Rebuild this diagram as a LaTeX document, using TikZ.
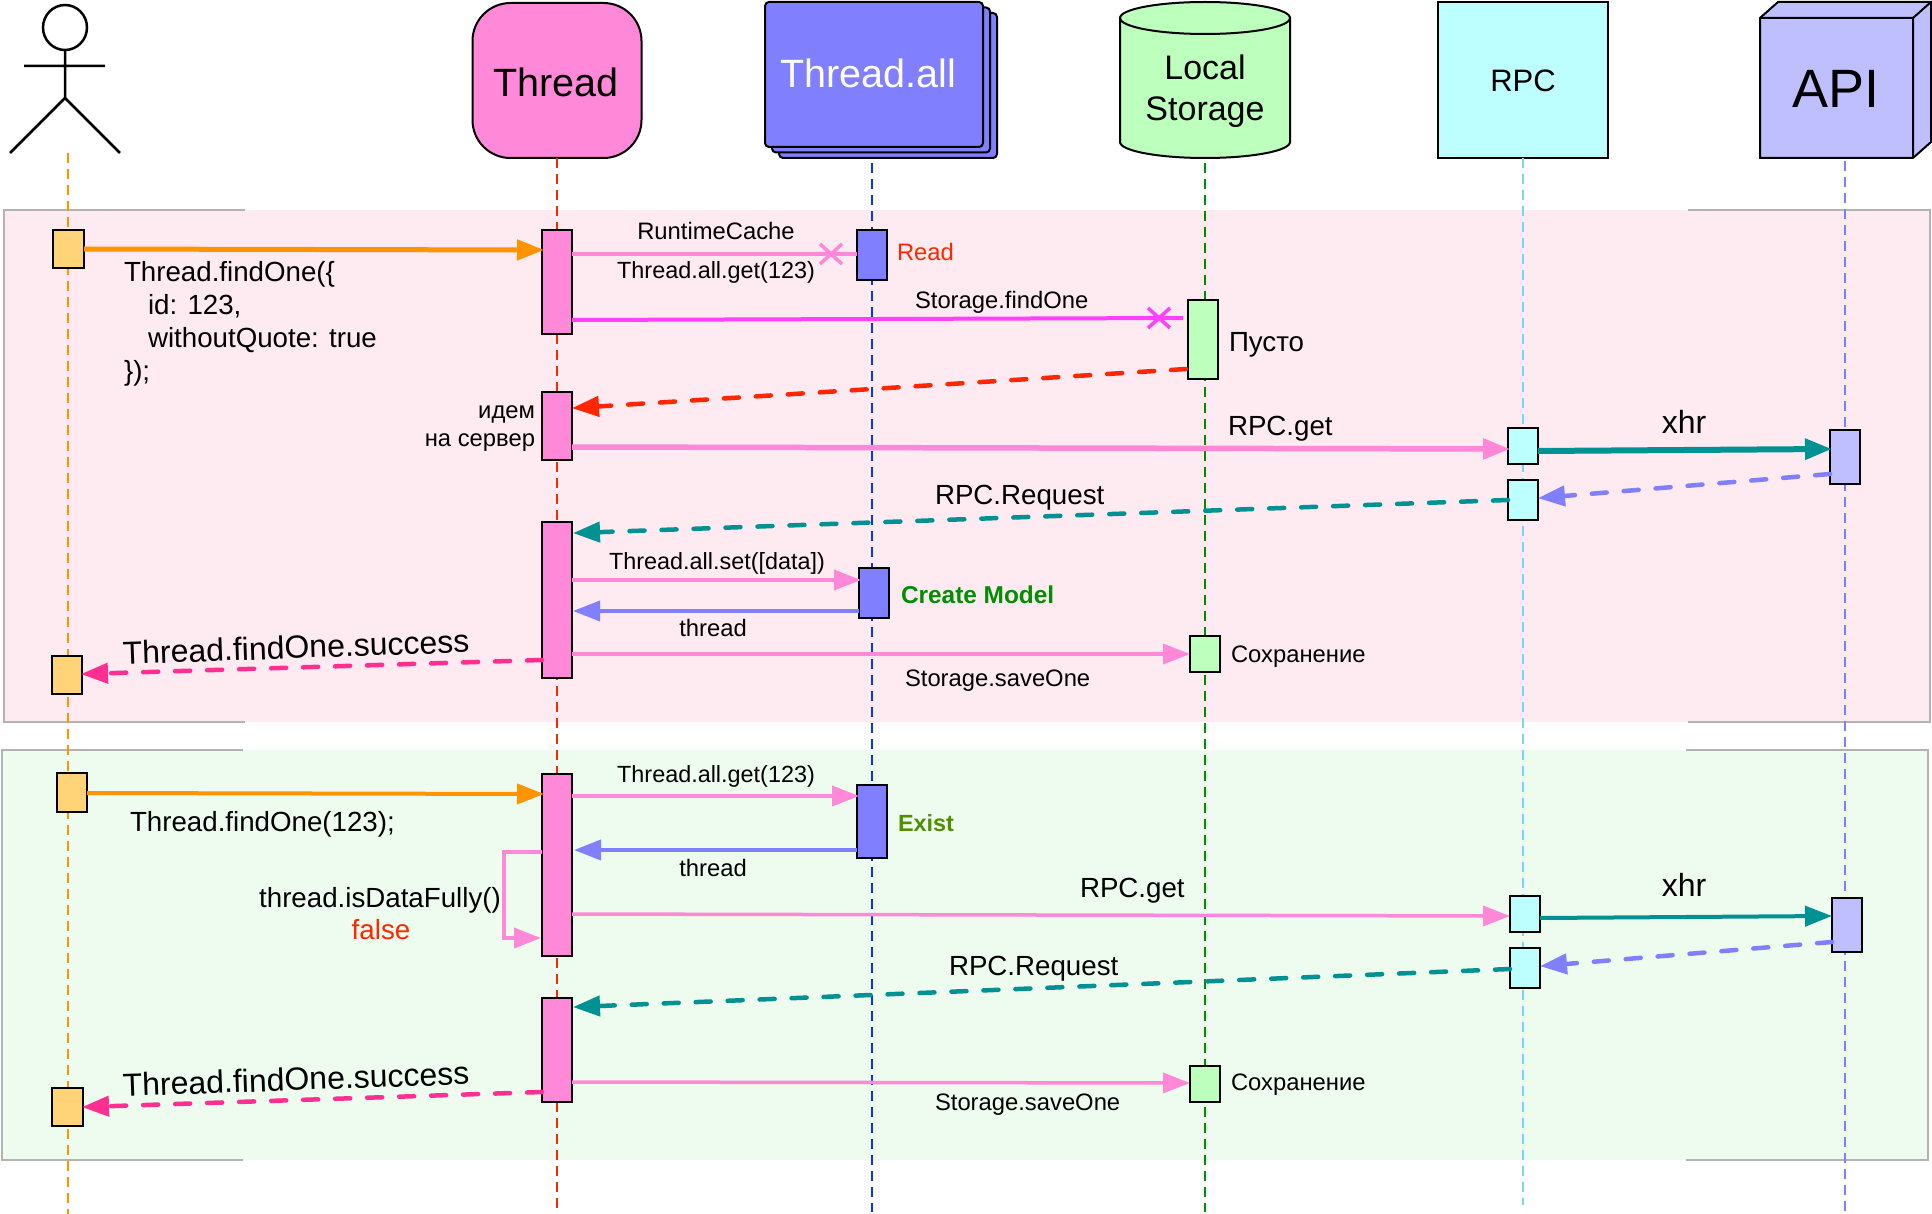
\documentclass[tikz,border=0pt]{standalone}
\usepackage{fontspec}
\setmainfont{Liberation Sans}
\usetikzlibrary{arrows.meta}
\definecolor{cpink}{HTML}{FF89D8}
\definecolor{corange}{HTML}{FF9300}
\definecolor{cmag}{HTML}{FF40FF}
\definecolor{cred}{HTML}{FF2600}
\definecolor{cteal}{HTML}{009193}
\definecolor{cperi}{HTML}{8080FF}
\definecolor{chot}{HTML}{FF2F92}
\definecolor{bor}{HTML}{FFD479}
\definecolor{bgr}{HTML}{BDFFBD}
\definecolor{bcy}{HTML}{BDFFFF}
\definecolor{bap}{HTML}{BFBFFF}
\definecolor{ppink}{HTML}{FEEAF1}
\definecolor{pgreen}{HTML}{EEFBEF}
\definecolor{gborder}{HTML}{B3B3B3}
\definecolor{lblue}{HTML}{0433FF}
\definecolor{lgreen}{HTML}{008F00}
\definecolor{lsky}{HTML}{76D6FF}
\definecolor{lperi}{HTML}{7A81FF}
\definecolor{cexist}{HTML}{4F8F00}
\tikzset{
  act/.style={draw=black,line width=2pt,inner sep=0pt,outer sep=0pt,minimum width=30pt},
  head/.style={draw=black,line width=2pt,inner sep=0pt,outer sep=0pt},
  life/.style={line width=2pt,dash pattern=on 10pt off 6pt},
  tipa/.style={-{Triangle[length=27pt,width=20pt]},shorten >=-2pt},
  call/.style={tipa,line width=#1},
  ret/.style={tipa,line width=#1,line cap=round,dash pattern=on 15pt off 17pt},
  lab/.style={inner sep=0pt,outer sep=0pt,font=\fontsize{23.8}{28}\selectfont},
  big/.style={inner sep=0pt,outer sep=0pt,font=\fontsize{27.7}{33}\selectfont},
  huge/.style={inner sep=0pt,outer sep=0pt,font=\fontsize{32}{38}\selectfont},
  panelborder/.style={draw=gborder,line width=2pt},
}
\begin{document}
\begin{tikzpicture}[x=1pt,y=-1pt,line join=miter]
\useasboundingbox (0,0) rectangle (1932,1214);
% panels
\fill[ppink] (4,210) rectangle (1930,722);
\fill[pgreen] (2,750) rectangle (1928,1160);
\draw[panelborder] (245,210) -- (4,210) -- (4,722) -- (245,722);
\draw[panelborder] (1688,210) -- (1930,210) -- (1930,722) -- (1688,722);
\draw[panelborder] (243,750) -- (2,750) -- (2,1160) -- (243,1160);
\draw[panelborder] (1686,750) -- (1928,750) -- (1928,1160) -- (1686,1160);
% actor
\draw[line width=2.5pt,line cap=round] (65,27.5) ellipse (22 and 22.5);
\draw[line width=2.5pt] (65,50) -- (65,98) (24,66) -- (105,66) (10,153) -- (65,98) -- (120,153);
% heads
\node[head,fill=cpink,rounded corners=38pt,minimum width=169pt,minimum height=155pt] (thread) at (557,80.5) {};
\node[head,fill=cperi,rounded corners=4pt,minimum width=218pt,minimum height=145pt] (all3) at (888,85.5) {};
\node[head,fill=cperi,rounded corners=4pt,minimum width=218pt,minimum height=145pt] (all2) at (881,80) {};
\node[head,fill=cperi,rounded corners=4pt,minimum width=218pt,minimum height=145pt] (all1) at (874,74.5) {};
\draw[line width=2pt,fill=bgr] (1120,18) -- (1120,142) arc[start angle=180,end angle=360,x radius=85,y radius=-16] -- (1290,18) arc[start angle=0,end angle=180,x radius=85,y radius=-16] -- cycle;
\draw[line width=2pt] (1120,18) arc[start angle=180,end angle=360,x radius=85,y radius=-16];
\node[head,draw=none,minimum width=170pt,minimum height=156pt] (storage) at (1205,80) {};
\node[head,fill=bcy,minimum width=170pt,minimum height=156pt] (rpc) at (1523,80) {};
\draw[line width=2pt,fill=bap] (1760,18) -- (1778,2) -- (1931,2) -- (1931,142) -- (1913,158) -- (1760,158) -- cycle;
\draw[line width=2pt] (1760,18) -- (1913,18) -- (1931,2) (1913,18) -- (1913,158);
\node[head,draw=none,minimum width=153pt,minimum height=140pt] (api) at (1836.5,88) {};
% lifelines
\coordinate (e0t) at (68,153); \coordinate (e0b) at (68,1214);
\coordinate (e1t) at (557,158); \coordinate (e1b) at (557,1208);
\coordinate (e2t) at (872,163); \coordinate (e2b) at (872,1212);
\coordinate (e3t) at (1205,163); \coordinate (e3b) at (1205,1212);
\coordinate (e4t) at (1523,158); \coordinate (e4b) at (1523,1205);
\coordinate (e5t) at (1845,161); \coordinate (e5b) at (1845,1212);
\draw[life,corange] (e0t) -- (e0b);
\draw[life,cred] (e1t) -- (e1b);
\draw[life,lblue] (e2t) -- (e2b);
\draw[life,lgreen] (e3t) -- (e3b);
\draw[life,lsky] (e4t) -- (e4b);
\draw[life,lperi] (e5t) -- (e5b);
% activation boxes, pink panel
\node[act,fill=bor,minimum width=31pt,minimum height=38pt] (a1) at (68.5,249) {};
\node[act,fill=bor,minimum height=38pt] (a2) at (67,675) {};
\node[act,fill=cpink,minimum height=104pt] (t1) at (557,282) {};
\node[act,fill=cpink,minimum height=68pt] (t2) at (557,426) {};
\node[act,fill=cpink,minimum height=156pt] (t3) at (557,600) {};
\node[act,fill=cperi,minimum height=50pt] (ta1) at (872,255) {};
\node[act,fill=cperi,minimum height=50pt] (ta2) at (874,593) {};
\node[act,fill=bgr,minimum height=79pt] (s1) at (1203,339.5) {};
\node[act,fill=bgr,minimum height=36pt] (s2) at (1205,654) {};
\node[act,fill=bcy,minimum height=36pt] (r1) at (1523,446) {};
\node[act,fill=bcy,minimum height=40pt] (r2) at (1523,500) {};
\node[act,fill=bap,minimum height=54pt] (p1) at (1845,457) {};
% activation boxes, green panel
\node[act,fill=bor,minimum height=39pt] (a3) at (72,792.5) {};
\node[act,fill=bor,minimum width=31pt,minimum height=38pt] (a4) at (67.5,1107) {};
\node[act,fill=cpink,minimum height=182pt] (t4) at (557,865) {};
\node[act,fill=cpink,minimum height=104pt] (t5) at (557,1050) {};
\node[act,fill=cperi,minimum height=73pt] (ta3) at (872,821.5) {};
\node[act,fill=bgr,minimum height=36pt] (s3) at (1205,1084) {};
\node[act,fill=bcy,minimum height=36pt] (r3) at (1525,914) {};
\node[act,fill=bcy,minimum height=40pt] (r4) at (1525,968) {};
\node[act,fill=bap,minimum height=54pt] (p2) at (1847,925) {};
% connectors, pink panel
\draw[call=5pt,corange] ([yshift=-19pt]a1.north east) -- ([yshift=-20pt]t1.north west);
\draw[line width=4pt,cpink] ([yshift=-24pt]t1.north east) -- ([yshift=-24pt]ta1.north west);
\draw[line width=3.5pt,cpink] (820,244) -- (842,264) (820,264) -- (842,244);
\draw[line width=4pt,cmag] ([yshift=-90pt]t1.north east) -- ([xshift=-5pt,yshift=-18pt]s1.north west);
\draw[line width=3.5pt,cmag] (1148,308) -- (1170,328) (1148,328) -- (1170,308);
\draw[ret=4.5pt,cred] ([xshift=-2pt,yshift=-69pt]s1.north west) -- ([xshift=2pt,yshift=-16pt]t2.north east);
\draw[call=5.5pt,cpink] ([yshift=-55pt]t2.north east) -- ([yshift=-21pt]r1.north west);
\draw[call=6pt,cteal] ([yshift=-23pt]r1.north east) -- ([yshift=-19pt]p1.north west);
\draw[ret=4.5pt,cperi] ([yshift=-44pt]p1.north west) -- ([xshift=2pt,yshift=-18pt]r2.north east);
\draw[ret=4.5pt,cteal] ([yshift=-20pt]r2.north west) -- ([xshift=3pt,yshift=-11pt]t3.north east);
\draw[call=3.5pt,cpink] ([yshift=-58pt]t3.north east) -- ([yshift=-12pt]ta2.north west);
\draw[call=3.5pt,cperi] ([yshift=-43pt]ta2.north west) -- ([xshift=3pt,yshift=-89pt]t3.north east);
\draw[call=3.5pt,cpink] ([yshift=-132pt]t3.north east) -- ([xshift=-2pt,yshift=-18pt]s2.north west);
\draw[ret=4.5pt,chot] ([yshift=-138pt]t3.north west) -- ([xshift=1pt,yshift=-18pt]a2.north east);
% connectors, green panel
\draw[call=4pt,corange] ([yshift=-20pt]a3.north east) -- ([yshift=-20pt]t4.north west);
\draw[call=4pt,cpink] ([yshift=-22pt]t4.north east) -- ([yshift=-11pt]ta3.north west);
\draw[call=4pt,cperi] ([yshift=-65pt]ta3.north west) -- ([xshift=4pt,yshift=-76pt]t4.north east);
\draw[call=4pt,cpink] ([yshift=-78pt]t4.north west) -- ++(-38,0) |- ([xshift=-3pt,yshift=-164pt]t4.north west);
\draw[call=3.5pt,cpink] ([yshift=-140pt]t4.north east) -- ([xshift=-2pt,yshift=-20pt]r3.north west);
\draw[ret=4.5pt,cteal] ([yshift=-21pt]r4.north west) -- ([xshift=3pt,yshift=-9pt]t5.north east);
\draw[call=3.5pt,cpink] ([yshift=-84pt]t5.north east) -- ([xshift=-2pt,yshift=-17pt]s3.north west);
\draw[ret=4.5pt,chot] ([yshift=-94pt]t5.north west) -- ([xshift=1pt,yshift=-19pt]a4.north east);
\draw[call=4pt,cteal] ([yshift=-22pt]r3.north east) -- ([xshift=-2pt,yshift=-18pt]p2.north west);
\draw[ret=4.5pt,cperi] ([yshift=-44pt]p2.north west) -- ([xshift=2pt,yshift=-18pt]r4.north east);
% head labels
\node[inner sep=0pt,font=\fontsize{39.5}{46}\selectfont] (lthread) at (556,82) {Thread};
\node[inner sep=0pt,text=white,font=\fontsize{39.5}{46}\selectfont] (lall) at (868,73) {Thread.all};
\node[inner sep=0pt,align=center,font=\fontsize{34}{41}\selectfont] (lstorage) at (1205,91.5) {Local\\Storage};
\node[inner sep=0pt,font=\fontsize{31}{36}\selectfont] (lrpc) at (1523,81) {RPC};
\node[inner sep=0pt,font=\fontsize{54}{60}\selectfont] (lapi) at (1836,89) {API};
% labels, pink panel
\node[lab] (n1) at (716,231) {RuntimeCache};
\node[lab,font=\fontsize{23.4}{28}\selectfont] (n2) at (716,272) {Thread.all.get(123)};
\node[lab,anchor=west,text=cred] (n3) at (897,252) {Read};
\node[lab,anchor=west] (n4) at (915,302) {Storage.findOne};
\node[big,anchor=west] (n5) at (1229,344.5) {Пусто};
\node[big,anchor=west,align=left] (n6) at (124,324) {Thread.findOne(\{\\\hspace*{24pt}id: 123,\\\hspace*{24pt}withoutQuote: true\\\});};
\node[lab,anchor=east,align=right] (n7) at (535,429) {идем\\на сервер};
\node[big,anchor=west] (n8) at (1228,428.5) {RPC.get};
\node[huge] (n9) at (1684,422) {xhr};
\node[big,anchor=west] (n10) at (935,497.5) {RPC.Request};
\node[lab,font=\fontsize{23.4}{28}\selectfont] (n11) at (717,563) {Thread.all.set([data])};
\node[lab,anchor=west,text=lgreen,font=\fontsize{24.4}{28}\selectfont\bfseries] (n12) at (901,595) {Create Model};
\node[lab] (n13) at (713,628) {thread};
\node[lab,anchor=west] (n14) at (1231,657) {Сохранение};
\node[lab,anchor=west] (n15) at (905,680.5) {Storage.saveOne};
\node[huge,rotate=2] (n16) at (296,647) {Thread.findOne.success};
% labels, green panel
\node[lab,font=\fontsize{23.4}{28}\selectfont] (m1) at (716,776.5) {Thread.all.get(123)};
\node[big,anchor=west] (m2) at (130,824) {Thread.findOne(123);};
\node[lab,anchor=west,text=cexist,font=\fontsize{23.4}{28}\selectfont\bfseries] (m3) at (898,823) {Exist};
\node[lab] (m4) at (713,868) {thread};
\node[big,anchor=west] (m5) at (1080,890.5) {RPC.get};
\node[huge] (m6) at (1684,885) {xhr};
\node[big] (m7) at (380,900) {thread.isDataFully()};
\node[big,text=cred] (m8) at (381,930) {false};
\node[big,anchor=west] (m9) at (949,968.5) {RPC.Request};
\node[lab,anchor=west] (m10) at (1231,1085) {Сохранение};
\node[lab,anchor=west] (m11) at (935,1105) {Storage.saveOne};
\node[huge,rotate=2] (m12) at (296,1079) {Thread.findOne.success};
\end{tikzpicture}
\end{document}
